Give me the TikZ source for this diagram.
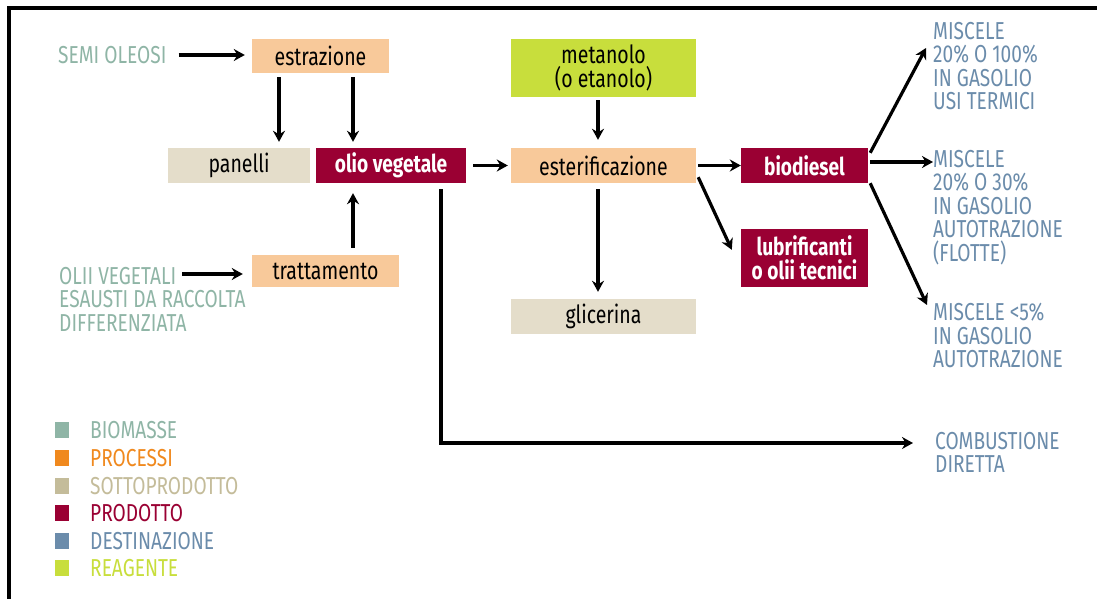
\documentclass[tikz,border=0pt]{standalone}
\usepackage{fontspec}
\setmainfont{Fira Sans}[FakeStretch=0.78]
\usetikzlibrary{arrows.meta}
\definecolor{biom}{RGB}{143,181,166}
\definecolor{procL}{RGB}{248,201,154}
\definecolor{procD}{RGB}{240,137,30}
\definecolor{sottL}{RGB}{228,221,202}
\definecolor{sottD}{RGB}{196,188,154}
\definecolor{prod}{RGB}{154,0,51}
\definecolor{dest}{RGB}{107,140,171}
\definecolor{reag}{RGB}{200,222,60}
\tikzset{
  box/.style={inner sep=0pt, minimum width=#1, font=\fontsize{25}{24}\selectfont},
  procbox/.style={box=#1, fill=procL, text=black},
  sottbox/.style={box=#1, fill=sottL, text=black},
  prodbox/.style={box=#1, fill=prod, text=white, font=\fontsize{24.5}{24}\selectfont\bfseries},
  reagbox/.style={box=#1, fill=reag, text=black},
  lbl/.style={inner sep=0pt, anchor=north west, align=left, font=\fontsize{24.5}{23.5}\selectfont},
  arr/.style={line width=3.2pt, -{Stealth[length=11pt,width=12pt]}},
  legsq/.style={minimum width=14pt, minimum height=16pt, inner sep=0pt},
  legtx/.style={inner sep=0pt, anchor=west, font=\fontsize{24.5}{24}\selectfont}
}
\begin{document}
\begin{tikzpicture}[x=1pt,y=-1pt]
\useasboundingbox (0,0) rectangle (1097,599);
\fill[white] (0,0) rectangle (1097,599);
% frame
\draw[line width=3.5pt] (9,599) -- (9,8) -- (1097,8);

% boxes
\node[procbox=137pt, minimum height=34pt] (estr) at (320.5,56) {estrazione};
\node[sottbox=142pt, minimum height=35pt] (pan) at (239,165.5) {panelli};
\node[prodbox=150pt, minimum height=35pt] (olio) at (391,165.5) {olio vegetale};
\node[procbox=147pt, minimum height=32pt] (tratt) at (325.5,271) {trattamento};
\node[reagbox=185pt, minimum height=58pt, align=center] (met) at (603.5,68) {metanolo\\(o etanolo)};
\node[procbox=185pt, minimum height=35pt] (ester) at (603.5,165.5) {esterificazione};
\node[sottbox=185pt, minimum height=35pt] (glic) at (603.5,316.5) {glicerina};
\node[prodbox=127pt, minimum height=35pt] (bio) at (804.5,165.5) {biodiesel};
\node[prodbox=127pt, minimum height=58pt, align=center] (lub) at (804.5,258) {lubrificanti\\o olii tecnici};

% source texts
\node[lbl, text=biom, anchor=west] (semi) at (58,55) {SEMI OLEOSI};
\node[lbl, text=biom] (olii) at (59,267) {OLII VEGETALI\\ESAUSTI DA RACCOLTA\\DIFFERENZIATA};

% destinations
\node[lbl, text=dest] (d1) at (933,22) {MISCELE\\20\% O 100\%\\IN GASOLIO\\USI TERMICI};
\node[lbl, text=dest] (d2) at (933,150) {MISCELE\\20\% O 30\%\\IN GASOLIO\\AUTOTRAZIONE\\(FLOTTE)};
\node[lbl, text=dest] (d3) at (933,303) {MISCELE <5\%\\IN GASOLIO\\AUTOTRAZIONE};
\node[lbl, text=dest] (d4) at (935,432) {COMBUSTIONE\\DIRETTA};

% connectors
\draw[arr, shorten >=7pt] ([xshift=12pt]semi.east) -- (estr.west |- semi.east);
\draw[arr, shorten <=4pt, shorten >=6pt] ([xshift=-41.5pt]estr.south) -- ([xshift=40pt]pan.north);
\draw[arr, shorten <=4pt, shorten >=6pt] ([xshift=32.5pt]estr.south) -- ([xshift=-38pt]olio.north);
\draw[arr, shorten <=7pt, shorten >=10pt] ([xshift=27.5pt]tratt.north) -- ([xshift=-38pt]olio.south);
\draw[arr, shorten >=9pt] ([xshift=123pt,yshift=-7pt]olii.north west) -- (tratt.west |- 0,274);
\draw[arr, shorten <=7pt, shorten >=3pt] (olio.east) -- (ester.west);
\draw[arr, shorten <=3pt, shorten >=8pt] ([xshift=-5.5pt]met.south) -- ([xshift=-5.5pt]ester.north);
\draw[arr, shorten <=6pt, shorten >=7pt] ([xshift=-5.5pt]ester.south) -- ([xshift=-5.5pt]glic.north);
\draw[arr, shorten <=2pt, shorten >=0pt] (ester.east) -- (bio.west);
\draw[arr] ([xshift=2pt,yshift=6pt]ester.south east) -- ([xshift=-9pt,yshift=-21pt]lub.north west);
\draw[arr] ([xshift=2pt,yshift=-5pt]bio.north east) -- ([xshift=-7pt,yshift=-26pt]d1.north west);
\draw[arr] ([xshift=2pt,yshift=3.5pt]bio.east) -- ([xshift=0pt,yshift=-12pt]d2.north west);
\draw[arr] ([xshift=2pt,yshift=0pt]bio.south east) -- ([xshift=-6pt,yshift=-2pt]d3.north west);
\draw[arr] ([xshift=50pt,yshift=-6pt]olio.south) |- ([xshift=-22pt,yshift=-11pt]d4.north west);

% legend
\foreach \c/\t/\y [count=\i] in {biom/BIOMASSE/430, procD/PROCESSI/458, sottD/SOTTOPRODOTTO/486, prod/PRODOTTO/513, dest/DESTINAZIONE/541, reag/REAGENTE/568}{
  \node[legsq, fill=\c] (sq\i) at (62,\y) {};
  \node[legtx, text=\c] (lt\i) at (90,\y) {\t};
}
\end{tikzpicture}
\end{document}
